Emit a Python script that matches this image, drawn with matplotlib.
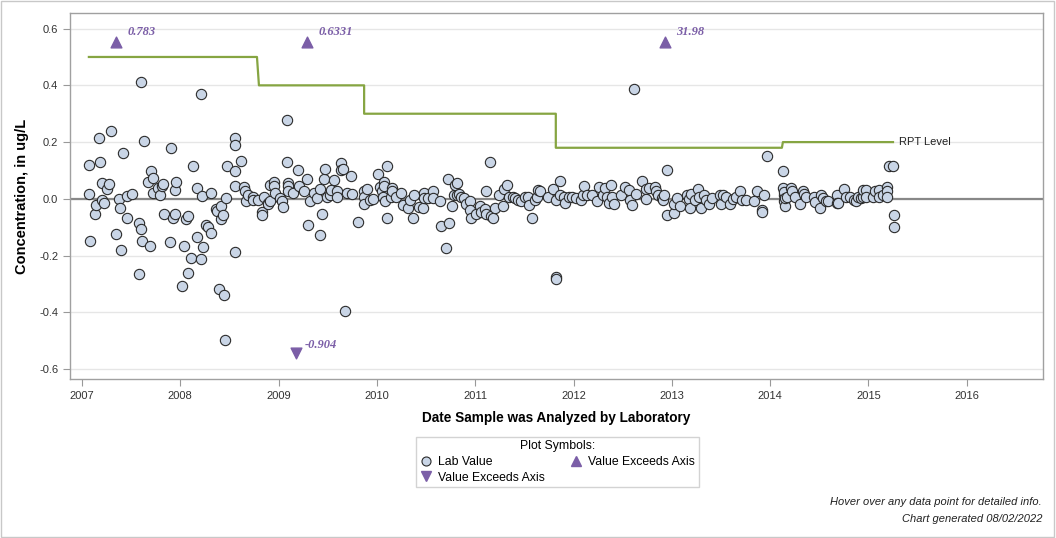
import matplotlib
matplotlib.use("Agg")
import matplotlib.pyplot as plt
from matplotlib.lines import Line2D
from matplotlib.patches import Rectangle

plt.rcParams['font.family'] = ['Liberation Sans', 'DejaVu Sans']

# sample dates (decimal years) and lab values, ug/L
sample_year = [
    2007.07, 2007.07, 2007.08, 2007.13, 2007.14, 2007.17, 2007.18, 2007.20, 2007.20, 2007.22,
    2007.25, 2007.27, 2007.29, 2007.35, 2007.38, 2007.39, 2007.40, 2007.42, 2007.46, 2007.46,
    2007.51, 2007.58, 2007.58, 2007.60, 2007.60, 2007.61, 2007.63, 2007.67, 2007.69, 2007.70,
    2007.72, 2007.72, 2007.77, 2007.79, 2007.81, 2007.82, 2007.83, 2007.90, 2007.91, 2007.93,
    2007.95, 2007.95, 2007.96, 2008.02, 2008.04, 2008.06, 2008.08, 2008.08, 2008.11, 2008.13,
    2008.17, 2008.17, 2008.21, 2008.21, 2008.22, 2008.23, 2008.26, 2008.28, 2008.31, 2008.31,
    2008.36, 2008.37, 2008.39, 2008.41, 2008.41, 2008.43, 2008.44, 2008.45, 2008.47, 2008.48,
    2008.56, 2008.56, 2008.56, 2008.56, 2008.56, 2008.62, 2008.65, 2008.66, 2008.67, 2008.69,
    2008.74, 2008.74, 2008.79, 2008.83, 2008.83, 2008.85, 2008.89, 2008.89, 2008.91, 2008.91,
    2008.95, 2008.95, 2008.96,
    2009.01, 2009.03, 2009.04, 2009.09, 2009.09, 2009.10, 2009.10, 2009.10, 2009.15, 2009.20,
    2009.21, 2009.26, 2009.29, 2009.30, 2009.32, 2009.36, 2009.39, 2009.42, 2009.42, 2009.44,
    2009.46, 2009.47, 2009.49, 2009.52, 2009.53, 2009.56, 2009.59, 2009.59, 2009.63, 2009.63,
    2009.66, 2009.68, 2009.70, 2009.74, 2009.75, 2009.81, 2009.87, 2009.87, 2009.87, 2009.90,
    2009.93, 2009.96,
    2010.01, 2010.03, 2010.05, 2010.06, 2010.07, 2010.07, 2010.08, 2010.10, 2010.10, 2010.14,
    2010.15, 2010.15, 2010.19, 2010.25, 2010.27, 2010.32, 2010.34, 2010.37, 2010.38, 2010.43,
    2010.47, 2010.48, 2010.48, 2010.52, 2010.57, 2010.57, 2010.64, 2010.65, 2010.70, 2010.72,
    2010.73, 2010.76, 2010.78, 2010.79, 2010.81, 2010.81, 2010.84, 2010.86, 2010.89, 2010.91,
    2010.95, 2010.95, 2010.96,
    2011.01, 2011.05, 2011.06, 2011.10, 2011.11, 2011.11, 2011.15, 2011.16, 2011.18, 2011.20,
    2011.24, 2011.28, 2011.29, 2011.32, 2011.34, 2011.38, 2011.40, 2011.44, 2011.47, 2011.51,
    2011.54, 2011.55, 2011.58, 2011.61, 2011.63, 2011.64, 2011.66, 2011.74, 2011.79, 2011.82,
    2011.82, 2011.82, 2011.86, 2011.86, 2011.90, 2011.91, 2011.95, 2011.98,
    2012.03, 2012.08, 2012.10, 2012.11, 2012.14, 2012.19, 2012.24, 2012.26, 2012.30, 2012.32,
    2012.34, 2012.36, 2012.38, 2012.39, 2012.41, 2012.48, 2012.52, 2012.56, 2012.57, 2012.60,
    2012.62, 2012.64, 2012.70, 2012.74, 2012.74, 2012.77, 2012.83, 2012.84, 2012.86, 2012.90,
    2012.91, 2012.92, 2012.95, 2012.95,
    2013.02, 2013.02, 2013.05, 2013.08, 2013.15, 2013.17, 2013.19, 2013.20, 2013.24, 2013.27,
    2013.28, 2013.30, 2013.33, 2013.35, 2013.38, 2013.41, 2013.49, 2013.50, 2013.52, 2013.55,
    2013.59, 2013.62, 2013.65, 2013.69, 2013.71, 2013.75, 2013.84, 2013.87, 2013.92, 2013.92,
    2013.94, 2013.97,
    2014.13, 2014.13, 2014.14, 2014.14, 2014.14, 2014.15, 2014.15, 2014.17, 2014.21, 2014.22,
    2014.25, 2014.30, 2014.33, 2014.34, 2014.36, 2014.45, 2014.46, 2014.51, 2014.52, 2014.54,
    2014.57, 2014.59, 2014.68, 2014.68, 2014.69, 2014.75, 2014.77, 2014.81, 2014.85, 2014.87,
    2014.89, 2014.92, 2014.94, 2014.95, 2014.98, 2014.98,
    2015.05, 2015.07, 2015.11, 2015.11, 2015.15, 2015.19, 2015.19, 2015.19, 2015.21, 2015.25,
    2015.26, 2015.26,
]
lab_value = [
    0.119, 0.016, -0.148, -0.053, -0.021, 0.214, 0.131, 0.056, -0.005, -0.015,
    0.035, 0.053, 0.240, -0.124, 0.001, -0.032, -0.181, 0.162, 0.011, -0.069,
    0.018, -0.086, -0.265, 0.412, -0.106, -0.148, 0.204, 0.061, -0.165, 0.097,
    0.074, 0.020, 0.039, 0.013, 0.046, 0.053, -0.054, -0.152, 0.179, -0.068,
    -0.053, 0.032, 0.058, -0.307, -0.166, -0.071, -0.060, -0.261, -0.208, 0.116,
    0.039, -0.133, 0.371, -0.213, 0.010, -0.169, -0.091, -0.098, 0.020, -0.121,
    -0.035, -0.042, -0.318, -0.024, -0.071, -0.056, -0.339, -0.498, 0.002, 0.115,
    0.214, 0.191, 0.099, 0.046, -0.187, 0.133, 0.042, 0.026, -0.006, 0.014,
    0.005, -0.005, -0.004, -0.045, -0.056, 0.007, -0.013, -0.018, 0.049, -0.009,
    0.058, 0.046, 0.019,
    0.002, -0.009, -0.029, 0.278, 0.131, 0.055, 0.045, 0.026, 0.019, 0.102,
    0.047, 0.026, 0.071, -0.092, -0.006, 0.020, 0.004, 0.035, -0.127, -0.054,
    0.070, 0.106, 0.007, 0.014, 0.032, 0.065, 0.026, 0.007, 0.125, 0.101,
    0.106, -0.395, 0.020, 0.080, 0.017, -0.081, 0.029, 0.008, -0.019, 0.034,
    -0.004, 0.000,
    0.088, 0.040, 0.026, 0.008, 0.061, 0.047, -0.006, 0.116, -0.067, 0.005,
    0.039, 0.026, 0.005, 0.022, -0.021, -0.031, -0.005, -0.068, 0.014, -0.029,
    -0.031, 0.022, 0.002, 0.002, 0.029, 0.002, -0.009, -0.095, -0.173, 0.070,
    -0.086, -0.025, 0.014, 0.049, 0.055, 0.014, 0.017, 0.008, 0.002, -0.018,
    -0.006, -0.039, -0.066,
    -0.054, -0.027, -0.045, -0.036, -0.053, 0.026, 0.131, -0.059, -0.066, -0.033,
    0.014, -0.024, 0.035, 0.049, 0.008, 0.005, 0.002, -0.004, -0.007, 0.008,
    0.005, -0.021, -0.068, -0.004, 0.008, 0.032, 0.026, 0.008, 0.034, -0.004,
    -0.274, -0.282, 0.064, 0.014, 0.008, -0.013, 0.005, 0.005,
    0.002, -0.004, 0.014, 0.046, 0.014, 0.014, -0.007, 0.040, 0.014, 0.038,
    0.008, -0.013, 0.049, 0.008, -0.019, 0.014, 0.040, 0.032, -0.004, -0.021,
    0.388, 0.017, 0.064, 0.035, -0.001, 0.038, 0.043, 0.028, 0.014, 0.002,
    -0.004, 0.014, 0.102, -0.058,
    -0.050, -0.019, 0.002, -0.025, 0.014, -0.001, -0.031, 0.017, -0.004, 0.034,
    0.008, -0.031, 0.014, -0.004, -0.019, 0.002, 0.014, -0.019, 0.014, 0.008,
    -0.019, -0.001, 0.008, 0.026, -0.004, -0.004, -0.007, 0.028, -0.039, -0.047,
    0.014, 0.152,
    0.097, 0.038, 0.014, -0.009, 0.025, -0.025, 0.003, 0.008, 0.038, 0.026,
    0.008, -0.019, 0.026, 0.018, 0.008, 0.008, -0.012, -0.031, 0.014, 0.002,
    -0.009, -0.009, 0.014, -0.013, -0.015, 0.035, 0.008, 0.008, -0.004, -0.009,
    0.005, 0.002, 0.008, 0.032, 0.032, 0.005,
    0.005, 0.026, 0.032, 0.008, 0.014, 0.043, 0.026, 0.005, 0.116, 0.116,
    -0.056, -0.098,
]

# reporting level steps
rpt_year = [2007.07, 2008.78, 2008.80, 2009.87, 2009.87, 2011.82, 2011.82, 2014.12, 2014.13, 2015.25]
rpt_level = [0.50, 0.50, 0.40, 0.40, 0.30, 0.30, 0.18, 0.18, 0.20, 0.20]

# values beyond the axis range
high_year = [2007.35, 2009.29, 2012.93]
high_value = [0.783, 0.6331, 31.98]
high_label = ['0.783', '0.6331', '31.98']
low_year = [2009.18]
low_value = [-0.904]
low_label = ['-0.904']

y_top = 0.655
y_bottom = -0.635
purple = '#7B5EA7'

fig = plt.figure(figsize=(10.56, 5.38), dpi=100)
ax = fig.add_axes([70 / 1056, 1 - 379 / 538, 973 / 1056, 366 / 538])

ax.set_xlim(2006.878, 2016.776)
ax.set_ylim(y_bottom, y_top)

ax.set_yticks([-0.6, -0.4, -0.2, 0.0, 0.2, 0.4, 0.6])
ax.set_yticklabels(['-0.6', '-0.4', '-0.2', '0.0', '0.2', '0.4', '0.6'])
ax.set_xticks(range(2007, 2017))
ax.set_xticklabels([str(y) for y in range(2007, 2017)])
ax.tick_params(labelsize=8, colors='#333333', length=5, color='#999999', width=0.8)
ax.grid(axis='y', color='#E6E6E6', linewidth=1)
ax.set_axisbelow(True)
for s in ax.spines.values():
    s.set_color('#A0A0A0')
    s.set_linewidth(1)

ax.axhline(0, color='#888888', linewidth=1.6, zorder=1)
ax.plot(rpt_year, rpt_level, color='#86A542', linewidth=1.6, zorder=2)
ax.text(rpt_year[-1] + 0.06, rpt_level[-1], 'RPT Level', fontsize=8, va='center', ha='left', color='#222222')

ax.scatter(sample_year, lab_value, s=55, facecolor='#C9D5E6', edgecolor='#2B2B2B', linewidth=0.8, zorder=3)

# markers just inside the axis for values outside it
hy = 0.553
for x, lab in zip(high_year, high_label):
    ax.scatter([x], [hy], marker='^', s=60, color=purple, zorder=4)
    ax.annotate(lab, (x, hy), xytext=(8, 5), textcoords='offset points', fontsize=9,
                color=purple, fontweight='bold', style='italic', family='Liberation Serif')
ly = -0.545
for x, lab in zip(low_year, low_label):
    ax.scatter([x], [ly], marker='v', s=60, color=purple, zorder=4)
    ax.annotate(lab, (x, ly), xytext=(6, 4), textcoords='offset points', fontsize=9,
                color=purple, fontweight='bold', style='italic', family='Liberation Serif')

ax.set_xlabel('Date Sample was Analyzed by Laboratory', fontsize=9.8, fontweight='bold', labelpad=7)
ax.set_ylabel('Concentration, in ug/L', fontsize=10.5, fontweight='bold', labelpad=7)

handles = [
    Line2D([], [], marker='o', linestyle='none', markersize=6.5, markerfacecolor='#C9D5E6',
           markeredgecolor='#2B2B2B', markeredgewidth=0.8, label='Lab Value'),
    Line2D([], [], marker='v', linestyle='none', markersize=6.5, color=purple, label='Value Exceeds Axis'),
    Line2D([], [], marker='^', linestyle='none', markersize=6.5, color=purple, label='Value Exceeds Axis'),
]
leg = fig.legend(handles=handles, ncol=2, loc='center', bbox_to_anchor=(557.5 / 1056, 1 - 462 / 538),
                 title='Plot Symbols:', fontsize=8.8, title_fontsize=8.8, frameon=True, fancybox=False,
                 edgecolor='#C8C8C8', handletextpad=0.5, columnspacing=2.0, borderpad=0.3,
                 labelspacing=0.3, handlelength=1.0)
leg.get_frame().set_linewidth(1)

fig.text(1042 / 1056, 1 - 502 / 538, 'Hover over any data point for detailed info.', ha='right',
         va='center', fontsize=8, style='italic', color='#222222')
fig.text(1042 / 1056, 1 - 519 / 538, 'Chart generated 08/02/2022', ha='right',
         va='center', fontsize=8, style='italic', color='#222222')

fig.patches.append(Rectangle((0.0005, 0.001), 0.998, 0.997, transform=fig.transFigure, fill=False,
                             edgecolor='#C8C8C8', linewidth=1))

plt.savefig('out.png', dpi=100)
plt.close()
